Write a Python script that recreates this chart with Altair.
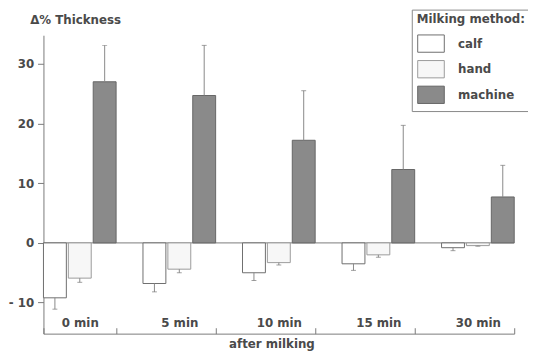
import altair as alt
import pandas as pd

times = ["0 min", "5 min", "10 min", "15 min", "30 min"]
methods = ["calf", "hand", "machine"]
calf = [-9.2, -6.8, -5.0, -3.5, -0.8]
calf_err = [1.9, 1.4, 1.3, 1.1, 0.5]
hand = [-5.9, -4.4, -3.3, -2.0, -0.45]
hand_err = [0.7, 0.6, 0.4, 0.4, 0.1]
machine = [27.0, 24.7, 17.2, 12.3, 7.7]
machine_err = [6.1, 8.4, 8.3, 7.4, 5.3]

rows = []
for i, t in enumerate(times):
    for m, vals, errs in zip(methods, [calf, hand, machine], [calf_err, hand_err, machine_err]):
        v = vals[i]
        e = errs[i]
        end = v + e if v >= 0 else v - e
        rows.append(dict(time=t, method=m, value=v, end=end))
df = pd.DataFrame(rows)

FONT = "DejaVu Sans"
TXT = "#4a4a4a"
AX = "#7a7a7a"

x_enc = alt.X(
    "time:N", sort=times,
    scale=alt.Scale(paddingInner=0.27, paddingOuter=0),
    axis=alt.Axis(orient="top", offset=-303, title="", tickBand="extent", tickSize=6,
                  labelAngle=0, labelPadding=1, labelBaseline="alphabetic",
                  domainColor=AX, tickColor=AX, labelFont=FONT, labelFontSize=12,
                  labelFontWeight="bold", labelColor=TXT),
)
xo_enc = alt.XOffset("method:N", sort=methods, scale=alt.Scale(paddingInner=0.08, paddingOuter=0))


def y_enc(field):
    return alt.Y(
        field, type="quantitative",
        scale=alt.Scale(domain=[-15.2, 34.8], nice=False, zero=False),
        axis=alt.Axis(values=[-10, 0, 10, 20, 30], title="Δ% Thickness", titleAngle=0,
                      titleAlign="left", titleX=-14, titleY=-12, titleBaseline="alphabetic",
                      grid=False, tickSize=6, labelPadding=4,
                      labelExpr="datum.value < 0 ? '- ' + abs(datum.value) : datum.label",
                      domainColor=AX, tickColor=AX, labelFont=FONT, labelFontSize=12,
                      labelFontWeight="bold", labelColor=TXT, titleFont=FONT,
                      titleFontSize=12, titleFontWeight="bold", titleColor=TXT),
    )


legend = alt.Legend(
    title="Milking method:", orient="none", legendX=374, legendY=-26,
    symbolType="M-1,-0.65H1V0.65H-1Z", symbolSize=730, symbolStrokeWidth=1,
    labelOffset=13, rowPadding=0, titlePadding=3, padding=5,
    strokeColor="#888888", fillColor="white",
    titleFont=FONT, titleFontSize=12, titleFontWeight="bold", titleColor=TXT,
    labelFont=FONT, labelFontSize=12, labelFontWeight="bold", labelColor=TXT,
)

fill_scale = alt.Scale(domain=methods, range=["#ffffff", "#f7f7f7", "#8a8a8a"])
stroke_scale = alt.Scale(domain=methods, range=["#6e6e6e", "#9a9a9a", "#666666"])

zero = alt.Chart(pd.DataFrame({"z": [0]})).mark_rule(color=AX, strokeWidth=1).encode(
    y=y_enc("z")
)

bars = alt.Chart(df).mark_bar(strokeWidth=1).encode(
    x=x_enc, xOffset=xo_enc, y=y_enc("value"),
    fill=alt.Fill("method:N", scale=fill_scale, legend=legend, sort=methods),
    stroke=alt.Stroke("method:N", scale=stroke_scale, legend=legend, sort=methods),
)

rules = alt.Chart(df).mark_rule(color="#888888", strokeWidth=1).encode(
    x=x_enc, xOffset=xo_enc, y=y_enc("value"), y2="end:Q"
)

caps = alt.Chart(df).mark_tick(color="#777777", size=5, thickness=1).encode(
    x=x_enc, xOffset=xo_enc, y=y_enc("end")
)

chart = alt.layer(zero, bars, rules, caps).properties(
    width=478, height=303,
    autosize="none",
    padding={"left": 36, "top": 25, "right": 14, "bottom": 16},
    title=alt.TitleParams("after milking", orient="bottom", offset=5, dx=-7,
                          font=FONT, fontSize=12, fontWeight="bold", color=TXT),
).configure_view(stroke=None)

chart.save("out.html", embed_options={"renderer": "svg", "actions": False})
